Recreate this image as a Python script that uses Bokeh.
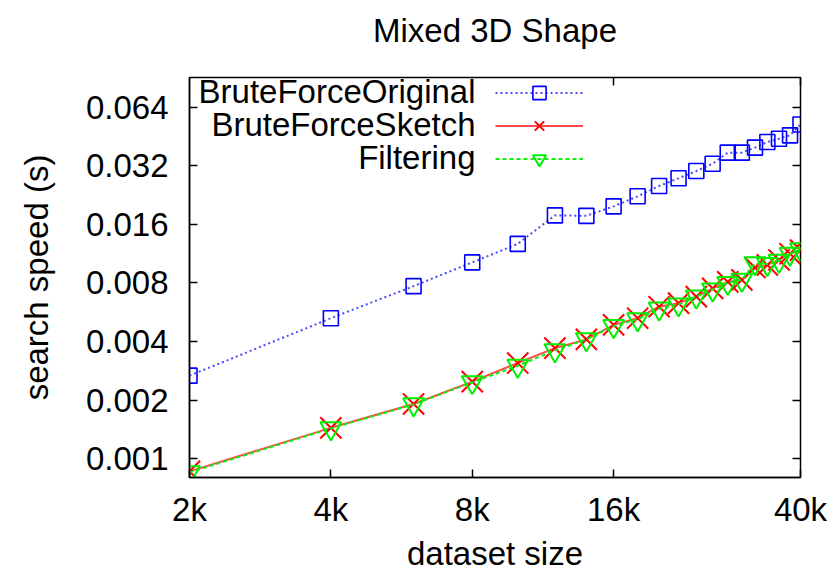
from bokeh.plotting import figure
from bokeh.models import (Range1d, LogAxis, FixedTicker, Legend, LegendItem,
                          Label, ColumnDataSource)
from bokeh.embed import file_html
from bokeh.resources import INLINE

# ---- data ----
sizes = [2000, 4000, 6000, 8000, 10000, 12000, 14000, 16000, 18000, 20000,
         22000, 24000, 26000, 28000, 30000, 32000, 34000, 36000, 38000, 40000]
brute_force_original = [0.00267, 0.00527, 0.0077, 0.0102, 0.0127, 0.0178, 0.0177,
                        0.0198, 0.0223, 0.0252, 0.0276, 0.0301, 0.0328, 0.0374,
                        0.0374, 0.0397, 0.0424, 0.0441, 0.0459, 0.0522]
brute_force_sketch = [0.00086, 0.00144, 0.00191, 0.00249, 0.0031, 0.0037, 0.0041,
                      0.00487, 0.00527, 0.00604, 0.0063, 0.0068, 0.0075, 0.0081,
                      0.0083, 0.0096, 0.0099, 0.0105, 0.0113, 0.0118]
filtering = [0.00085, 0.00143, 0.0019, 0.00247, 0.0030, 0.0036, 0.0041,
             0.0048, 0.0052, 0.0059, 0.0062, 0.0068, 0.0074, 0.0080,
             0.0083, 0.0101, 0.0100, 0.0104, 0.0113, 0.0119]
series_names = ["BruteForceOriginal", "BruteForceSketch", "Filtering"]
chart_title = "Mixed 3D Shape"
x_ticks = [2000, 4000, 8000, 16000, 40000]
x_tick_labels = ["2k", "4k", "8k", "16k", "40k"]
y_ticks = [0.001, 0.002, 0.004, 0.008, 0.016, 0.032, 0.064]
y_tick_labels = ["0.001", "0.002", "0.004", "0.008", "0.016", "0.032", "0.064"]

FONT = "Liberation Sans"
FS = "33px"

src = ColumnDataSource(dict(x=sizes, bo=brute_force_original,
                            bs=brute_force_sketch, fi=filtering))

p = figure(width=830, height=574, x_axis_type="log", y_axis_type="log",
           x_range=Range1d(2000, 40000), y_range=Range1d(0.0008, 0.091),
           output_backend="svg", toolbar_location=None,
           min_border_left=189, min_border_right=30,
           min_border_top=77, min_border_bottom=96)

p.title.text = chart_title
p.title.align = "center"
p.title.text_font = FONT
p.title.text_font_size = FS
p.title.text_font_style = "normal"
p.title.text_color = "black"
p.title.standoff = 0

p.xgrid.visible = False
p.ygrid.visible = False
p.outline_line_color = "black"
p.outline_line_width = 1.5
p.background_fill_color = "white"
p.border_fill_color = "white"

xa = p.xaxis[0]
xa.ticker = FixedTicker(ticks=x_ticks)
xa.major_label_overrides = {t: l for t, l in zip(x_ticks, x_tick_labels)}
xa.axis_label = "dataset size"
ya = p.yaxis[0]
ya.ticker = FixedTicker(ticks=y_ticks)
ya.major_label_overrides = {t: l for t, l in zip(y_ticks, y_tick_labels)}
ya.axis_label = "search speed (s)"

for ax in (xa, ya):
    ax.major_tick_in = 8
    ax.major_tick_out = 0
    ax.minor_tick_in = 0
    ax.minor_tick_out = 0
    ax.axis_line_color = "black"
    ax.axis_line_width = 1.5
    ax.major_tick_line_width = 1.5
    ax.major_label_text_font = FONT
    ax.major_label_text_font_size = FS
    ax.major_label_text_color = "black"
    ax.axis_label_text_font = FONT
    ax.axis_label_text_font_size = FS
    ax.axis_label_text_font_style = "normal"
    ax.axis_label_text_color = "black"

xa.major_label_standoff = 13
xa.axis_label_standoff = 4
ya.major_label_standoff = 21
ya.axis_label_standoff = 28

# mirror axes (ticks only)
right = LogAxis(ticker=FixedTicker(ticks=y_ticks))
top = LogAxis(ticker=FixedTicker(ticks=[16000, 40000]))
for ax in (right, top):
    ax.major_tick_in = 8
    ax.major_tick_out = 0
    ax.minor_tick_in = 0
    ax.minor_tick_out = 0
    ax.major_label_text_font_size = "2px"
    ax.major_label_text_alpha = 0
    ax.major_label_standoff = 0
    ax.axis_line_color = None
    ax.major_tick_line_width = 1.5
p.add_layout(right, "right")
p.add_layout(top, "above")

# invisible spacer axis that lifts the title away from the frame
spacer = LogAxis(ticker=FixedTicker(ticks=[16000]), major_tick_in=0, major_tick_out=29,
                 minor_tick_in=0, minor_tick_out=0, axis_line_color=None,
                 major_tick_line_color=None, major_label_text_font_size="2px",
                 major_label_text_alpha=0, major_label_standoff=0)
p.add_layout(spacer, "above")

# series
l1 = p.line("x", "bo", source=src, line_color="#4a4aff", line_width=2, line_dash="2 3")
m1 = p.scatter("x", "bo", source=src, marker="square", size=15,
               line_color="#0000ff", line_width=1.6, fill_color=None)
l2 = p.line("x", "bs", source=src, line_color="#ff4a4a", line_width=2)
m2 = p.scatter("x", "bs", source=src, marker="x", size=30,
               line_color="#ff0000", line_width=2)
l3 = p.line("x", "fi", source=src, line_color="#11ee11", line_width=2, line_dash="4 3")
m3 = p.scatter("x", "fi", source=src, marker="inverted_triangle", size=21,
               line_color="#00ee00", line_width=2, fill_color=None)

legend = Legend(items=[LegendItem(label="·", renderers=[l1, m1]),
                       LegendItem(label="·", renderers=[l2, m2]),
                       LegendItem(label="·", renderers=[l3, m3])],
                location=(306, 302), glyph_width=88, glyph_height=33,
                spacing=0, padding=0, margin=0, label_standoff=2,
                label_width=4, label_text_font_size="4px", label_text_alpha=0,
                border_line_color=None, background_fill_alpha=0)
p.add_layout(legend)

for i, name in enumerate(series_names):
    p.add_layout(Label(x=286, y=386 - 33 * i, x_units="screen", y_units="screen",
                       text=name, text_align="right", text_baseline="middle",
                       text_font=FONT, text_font_size=FS, text_color="black"))

open("out.html", "w").write(file_html(p, INLINE))
